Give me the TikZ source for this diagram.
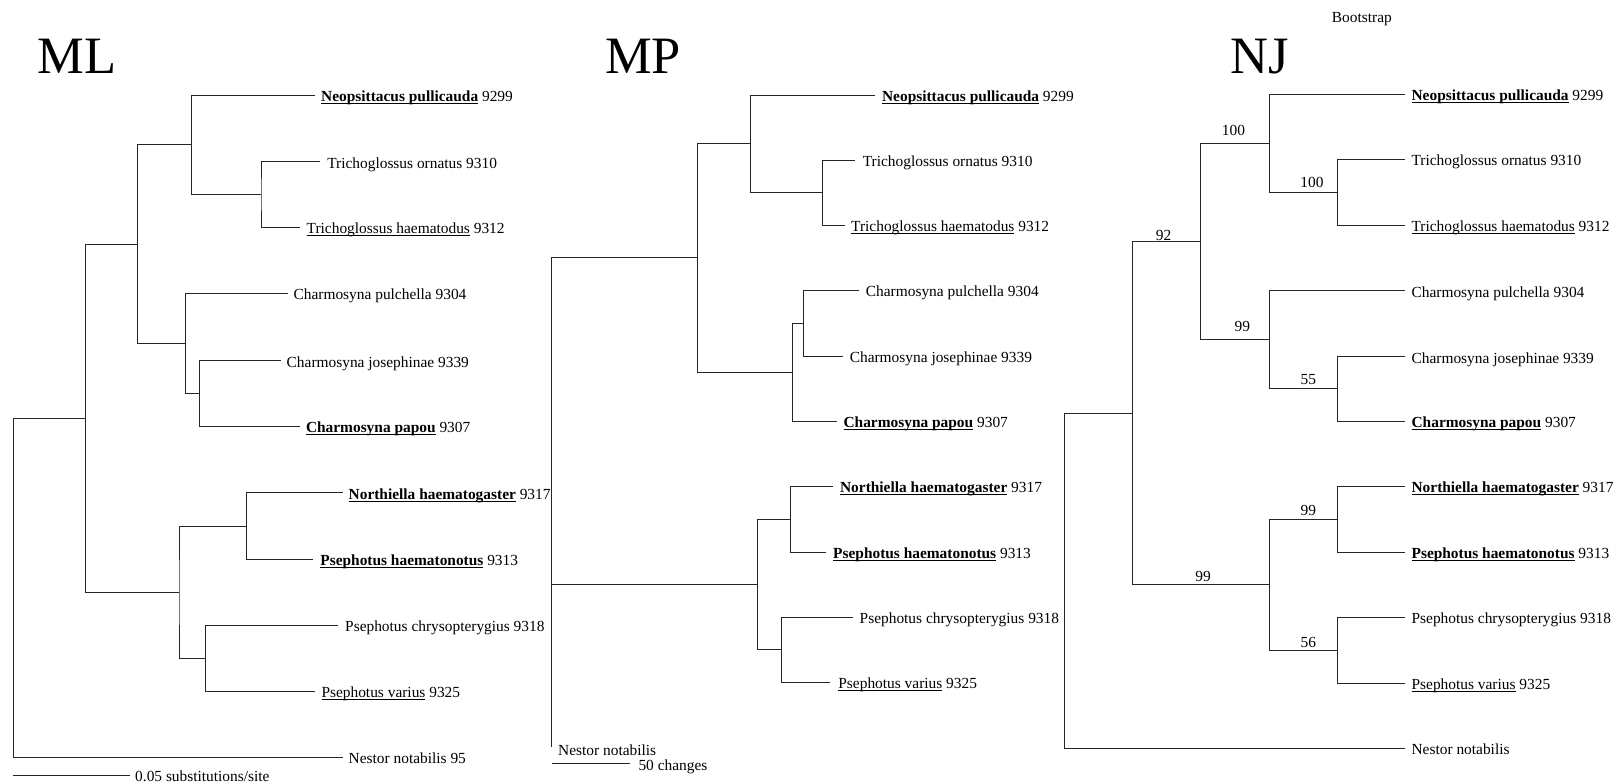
\documentclass[tikz,border=0pt]{standalone}
\usepackage{fontspec}
\setmainfont{Liberation Serif}
\newlength\ulw
\newcommand\ulit[1]{\settowidth{\ulw}{#1}\rlap{\rule[-2.5bp]{\ulw}{1bp}}#1}
\newcommand\leaffont{\fontsize{15.4bp}{18bp}\selectfont}
\newcommand\tOne{\ulit{\textbf{Neopsittacus pullicauda}} 9299}
\newcommand\tTwo{Trichoglossus ornatus 9310}
\newcommand\tThree{\ulit{Trichoglossus haematodus} 9312}
\newcommand\tFour{Charmosyna pulchella 9304}
\newcommand\tFive{Charmosyna josephinae 9339}
\newcommand\tSix{\ulit{\textbf{Charmosyna papou}} 9307}
\newcommand\tSeven{\ulit{\textbf{Northiella haematogaster}} 9317}
\newcommand\tEight{\ulit{\textbf{Psephotus haematonotus}} 9313}
\newcommand\tNine{Psephotus chrysopterygius 9318}
\newcommand\tTen{\ulit{Psephotus varius} 9325}
\begin{document}
\begin{tikzpicture}[x=1bp,y=-1bp,
  branch/.style={draw=black!85, line width=0.9bp},
  leaf/.style={anchor=base west, inner sep=0pt, font=\leaffont},
  boot/.style={anchor=base, inner sep=0pt, font=\leaffont},
  treetitle/.style={anchor=base west, inner sep=0pt, font=\fontsize{52.5bp}{60bp}\selectfont}]
\useasboundingbox (0,0) rectangle (1615,784);

% ---------- titles ----------
\node[treetitle] (tml) at (37.2,74) {ML};
\node[treetitle] (tmp) at (605,74) {MP};
\node[treetitle] (tnj) at (1230,74) {NJ};
\node[leaf] (bootlabel) at (1331.7,22.7) {Bootstrap};

% ---------- ML ----------
\coordinate (mlR) at (13.8,587);
\coordinate (mlE) at (85.4,418.1);
\coordinate (mlB) at (137.4,244);
\coordinate (mlA) at (191.5,144.75);
\coordinate (mlT) at (261,194.5);
\coordinate (mlC) at (185.3,343.3);
\coordinate (mlD) at (199.7,393.3);
\coordinate (mlF) at (179,592.2);
\coordinate (mlG) at (246.6,526);
\coordinate (mlH) at (205.2,658.3);
\coordinate (ml1) at (315.1,95);
\coordinate (ml2) at (320.2,161.7);
\coordinate (ml3) at (300.3,227.3);
\coordinate (ml4) at (287.5,293.3);
\coordinate (ml5) at (280.6,360.7);
\coordinate (ml6) at (299.6,426);
\coordinate (ml7) at (342.6,492.7);
\coordinate (ml8) at (313.4,559.3);
\coordinate (ml9) at (337.5,625.3);
\coordinate (ml10) at (315,691.3);
\coordinate (ml11) at (343.3,757.3);
\node[leaf] (mlt1) at (321,101.5) {\tOne};
\node[leaf] (mlt2) at (327.1,168.2) {\tTwo};
\node[leaf] (mlt3) at (306.5,233.8) {\tThree};
\node[leaf] (mlt4) at (293.4,299.8) {\tFour};
\node[leaf] (mlt5) at (286.5,367.2) {\tFive};
\node[leaf] (mlt6) at (305.8,432.5) {\tSix};
\node[leaf] (mlt7) at (348.5,499.2) {\tSeven};
\node[leaf] (mlt8) at (320.2,565.8) {\tEight};
\node[leaf] (mlt9) at (345,631.8) {\tNine};
\node[leaf] (mlt10) at (321.3,697.8) {\tTen};
\node[leaf] (mlt11) at (348.5,763.8) {Nestor notabilis 95};
\draw[branch] (ml1) -| (mlA) |- (mlT);
\draw[branch] (ml2) -| (mlT) |- (ml3);
\draw[branch] (mlA) -| (mlB) |- (mlC);
\draw[branch] (ml4) -| (mlC) |- (mlD);
\draw[branch] (ml5) -| (mlD) |- (ml6);
\draw[branch] (mlB) -| (mlE) |- (mlF);
\draw[branch] (mlG) -| (mlF) |- (mlH);
\draw[branch] (ml7) -| (mlG) |- (ml8);
\draw[branch] (ml9) -| (mlH) |- (ml10);
\draw[branch] (mlE) -| (mlR) |- (ml11);
\coordinate (sb1a) at (13.3,775);
\coordinate (sb1b) at (130,775);
\draw[branch] (sb1a) -- (sb1b);
\node[leaf] (sb1t) at (135,781.5) {0.05 substitutions/site};

% ---------- MP ----------
\coordinate (mpR) at (551.7,584.3);
\coordinate (mpRt) at (551.7,257.9);
\coordinate (mpB) at (697.4,257.9);
\coordinate (mpA) at (750.4,143.75);
\coordinate (mpT) at (822.7,192.5);
\coordinate (mpC) at (792.4,372);
\coordinate (mpP) at (803.8,323);
\coordinate (mpF) at (757.3,584.3);
\coordinate (mpG) at (790,519);
\coordinate (mpH) at (781.4,649.7);
\coordinate (mp1) at (875.4,95);
\coordinate (mp2) at (855.4,160);
\coordinate (mp3) at (845,225);
\coordinate (mp4) at (858.9,290);
\coordinate (mp5) at (843.4,356);
\coordinate (mp6) at (836.5,421);
\coordinate (mp7) at (833,486);
\coordinate (mp8) at (825.5,552);
\coordinate (mp9) at (852.7,617.3);
\coordinate (mp10) at (829.6,682);
\coordinate (mp11) at (551.7,746.7);
\node[leaf] (mpt1) at (881.9,101.5) {\tOne};
\node[leaf] (mpt2) at (862.6,166.5) {\tTwo};
\node[leaf] (mpt3) at (851,231.5) {\tThree};
\node[leaf] (mpt4) at (865.7,296.5) {\tFour};
\node[leaf] (mpt5) at (849.6,362.5) {\tFive};
\node[leaf] (mpt6) at (843.4,427.5) {\tSix};
\node[leaf] (mpt7) at (839.9,492.5) {\tSeven};
\node[leaf] (mpt8) at (833,558.5) {\tEight};
\node[leaf] (mpt9) at (859.5,623.8) {\tNine};
\node[leaf] (mpt10) at (838.2,688.5) {\tTen};
\node[leaf] (mpt11) at (558,755.5) {Nestor notabilis};
\draw[branch] (mp1) -| (mpA) |- (mpT);
\draw[branch] (mp2) -| (mpT) |- (mp3);
\draw[branch] (mpA) -| (mpB) |- (mpC);
\draw[branch] (mp4) -| (mpP) |- (mp5);
\draw[branch] (mpP) -| (mpC) |- (mp6);
\draw[branch] (mpB) -- (mpRt) -- (mp11);
\draw[branch] (mpR) -- (mpF);
\draw[branch] (mpG) -| (mpF) |- (mpH);
\draw[branch] (mp7) -| (mpG) |- (mp8);
\draw[branch] (mp9) -| (mpH) |- (mp10);
\coordinate (sb2a) at (551.7,763.3);
\coordinate (sb2b) at (630,763.3);
\draw[branch] (sb2a) -- (sb2b);
\node[leaf] (sb2t) at (638.3,770) {50 changes};

% ---------- NJ ----------
\coordinate (njR) at (1064.4,580);
\coordinate (njE) at (1132.9,413);
\coordinate (njB) at (1200.6,241.5);
\coordinate (njA) at (1269.8,143.3);
\coordinate (njT) at (1337.5,192.3);
\coordinate (njC) at (1269.8,339.8);
\coordinate (njD) at (1337.5,388.85);
\coordinate (njF) at (1269.8,584.5);
\coordinate (njG) at (1337.5,519);
\coordinate (njH) at (1337.5,650);
\coordinate (nj1) at (1404.9,94.3);
\coordinate (nj2) at (1404.9,159.3);
\coordinate (nj3) at (1404.9,225.3);
\coordinate (nj4) at (1404.9,290.7);
\coordinate (nj5) at (1404.9,356.7);
\coordinate (nj6) at (1404.9,421);
\coordinate (nj7) at (1404.9,486);
\coordinate (nj8) at (1404.9,552);
\coordinate (nj9) at (1404.9,617);
\coordinate (nj10) at (1404.9,683);
\coordinate (nj11) at (1404.9,748.3);
\node[leaf] (njt1) at (1411.4,100.8) {\tOne};
\node[leaf] (njt2) at (1411.4,165.8) {\tTwo};
\node[leaf] (njt3) at (1411.4,231.8) {\tThree};
\node[leaf] (njt4) at (1411.4,297.2) {\tFour};
\node[leaf] (njt5) at (1411.4,363.2) {\tFive};
\node[leaf] (njt6) at (1411.4,427.5) {\tSix};
\node[leaf] (njt7) at (1411.4,492.5) {\tSeven};
\node[leaf] (njt8) at (1411.4,558.5) {\tEight};
\node[leaf] (njt9) at (1411.4,623.5) {\tNine};
\node[leaf] (njt10) at (1411.4,689.5) {\tTen};
\node[leaf] (njt11) at (1411.4,754.8) {Nestor notabilis};
\draw[branch] (nj1) -| (njA) |- (njT);
\draw[branch] (nj2) -| (njT) |- (nj3);
\draw[branch] (njA) -| (njB) |- (njC);
\draw[branch] (nj4) -| (njC) |- (njD);
\draw[branch] (nj5) -| (njD) |- (nj6);
\draw[branch] (njB) -| (njE) |- (njF);
\draw[branch] (njG) -| (njF) |- (njH);
\draw[branch] (nj7) -| (njG) |- (nj8);
\draw[branch] (nj9) -| (njH) |- (nj10);
\draw[branch] (njE) -| (njR) |- (nj11);
% bootstrap values
\node[boot] (bA) at (1233.4,135) {100};
\node[boot] (bT) at (1312,187) {100};
\node[boot] (bC) at (1242.4,331.7) {99};
\node[boot] (bD) at (1308.4,384.3) {55};
\node[boot] (bE) at (1163.5,240) {92};
\node[boot] (bF) at (1203.1,581.7) {99};
\node[boot] (bG) at (1308.4,515.7) {99};
\node[boot] (bH) at (1308.4,647) {56};
\end{tikzpicture}
\end{document}
